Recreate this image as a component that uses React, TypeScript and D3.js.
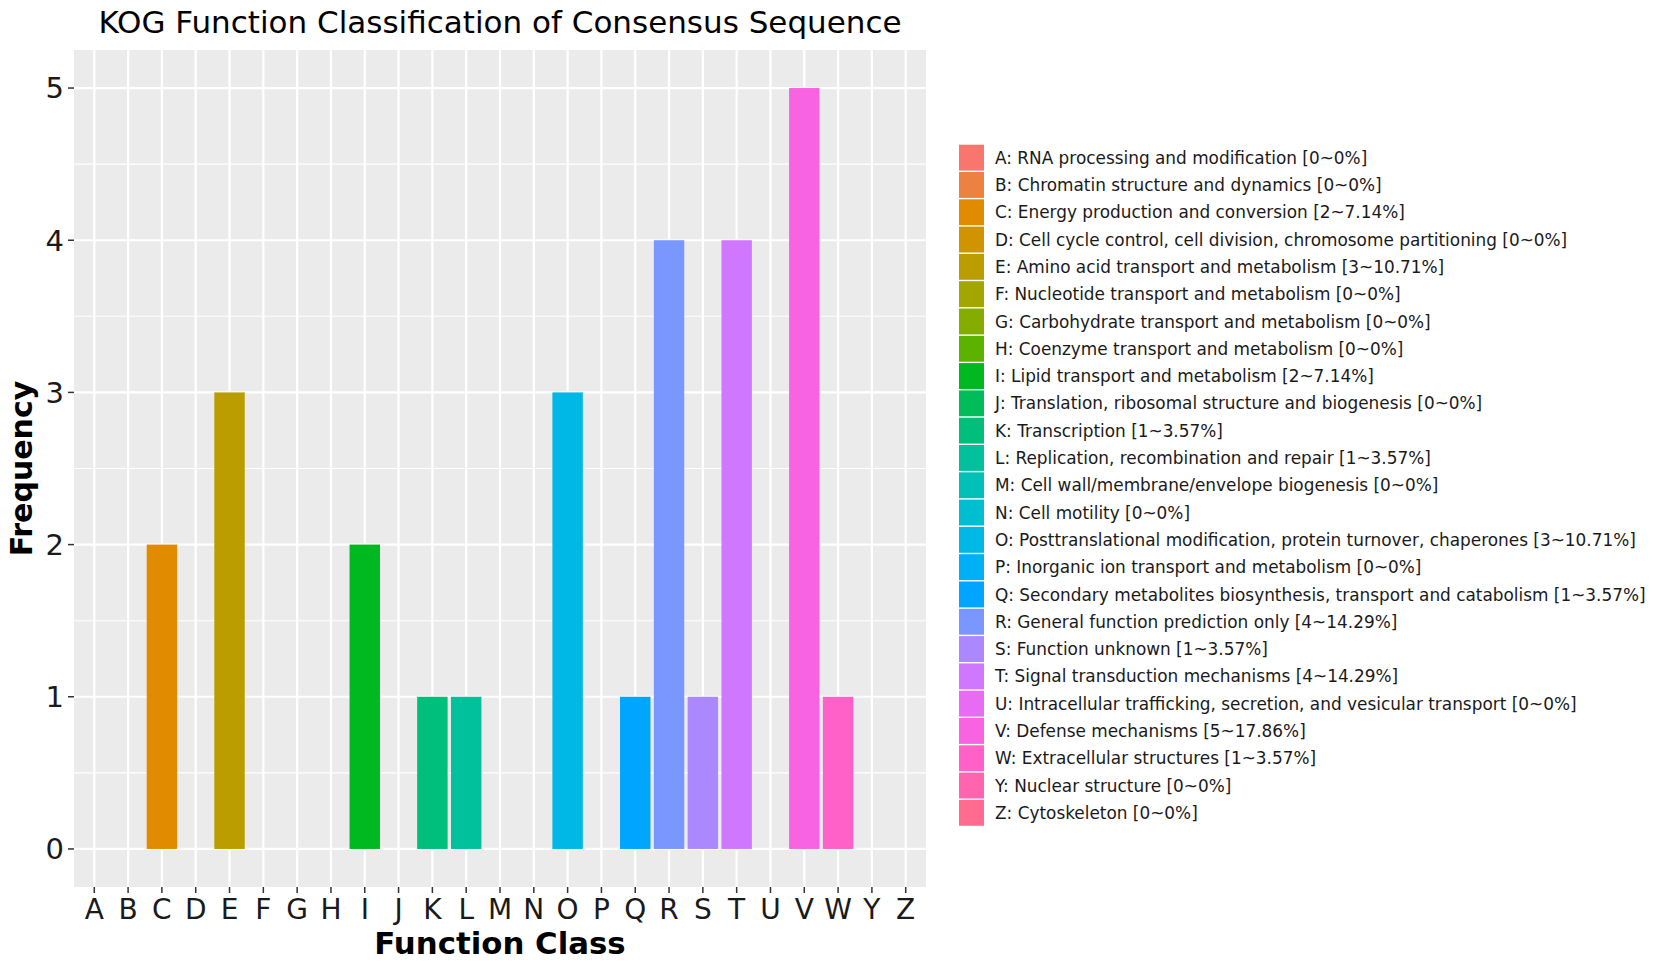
import React, { useEffect, useRef } from 'react';
import * as d3 from 'd3';

// KOG classes (no X in the original table)
const classes = ['A', 'B', 'C', 'D', 'E', 'F', 'G', 'H', 'I', 'J', 'K', 'L', 'M', 'N', 'O', 'P', 'Q', 'R', 'S', 'T', 'U', 'V', 'W', 'Y', 'Z'];
const counts = [0, 0, 2, 0, 3, 0, 0, 0, 2, 0, 1, 1, 0, 0, 3, 0, 1, 4, 1, 4, 0, 5, 1, 0, 0];
const percents = ['0', '0', '7.14', '0', '10.71', '0', '0', '0', '7.14', '0', '3.57', '3.57', '0', '0', '10.71', '0', '3.57', '14.29', '3.57', '14.29', '0', '17.86', '3.57', '0', '0'];
const descriptions = [
  'RNA processing and modification',
  'Chromatin structure and dynamics',
  'Energy production and conversion',
  'Cell cycle control, cell division, chromosome partitioning',
  'Amino acid transport and metabolism',
  'Nucleotide transport and metabolism',
  'Carbohydrate transport and metabolism',
  'Coenzyme transport and metabolism',
  'Lipid transport and metabolism',
  'Translation, ribosomal structure and biogenesis',
  'Transcription',
  'Replication, recombination and repair',
  'Cell wall/membrane/envelope biogenesis',
  'Cell motility',
  'Posttranslational modification, protein turnover, chaperones',
  'Inorganic ion transport and metabolism',
  'Secondary metabolites biosynthesis, transport and catabolism',
  'General function prediction only',
  'Function unknown',
  'Signal transduction mechanisms',
  'Intracellular trafficking, secretion, and vesicular transport',
  'Defense mechanisms',
  'Extracellular structures',
  'Nuclear structure',
  'Cytoskeleton',
];
const yTicks = [0, 1, 2, 3, 4, 5];
const yMinor = [0.5, 1.5, 2.5, 3.5, 4.5];

// ggplot-style hue palette (polar LUV -> sRGB)
function hclLuv(h: number, c: number, l: number) {
  const hr = (h * Math.PI) / 180;
  const U = c * Math.cos(hr);
  const V = c * Math.sin(hr);
  const Xn = 95.047, Yn = 100, Zn = 108.883;
  const den = Xn + 15 * Yn + 3 * Zn;
  const un = (4 * Xn) / den, vn = (9 * Yn) / den;
  const Y = l > 8 ? Yn * Math.pow((l + 16) / 116, 3) : (Yn * l) / 903.3;
  const u = U / (13 * l) + un;
  const v = V / (13 * l) + vn;
  const X = (9 * Y * u) / (4 * v);
  const Z = -X / 3 - 5 * Y + (3 * Y) / v;
  const x = X / 100, y = Y / 100, z = Z / 100;
  const lin = [
    3.240479 * x - 1.53715 * y - 0.498535 * z,
    -0.969256 * x + 1.875992 * y + 0.041556 * z,
    0.055648 * x - 0.204043 * y + 1.057311 * z,
  ];
  const g = lin.map((t) => {
    const s = t <= 0.0031308 ? 12.92 * t : 1.055 * Math.pow(t, 1 / 2.4) - 0.055;
    return Math.round(Math.max(0, Math.min(1, s)) * 255);
  });
  return d3.rgb(g[0], g[1], g[2]).formatHex();
}

const W = 1654;
const H = 965;

const Chart: React.FC = () => {
  const ref = useRef<SVGSVGElement>(null);

  useEffect(() => {
    const svg = d3.select(ref.current);
    svg.selectAll('*').remove();

    const n = classes.length;
    const colors = classes.map((_, i) => hclLuv(15 + (360 / n) * i, 100, 65));
    const color = d3.scaleOrdinal<string, string>().domain(classes).range(colors);

    const panel = { left: 74, right: 926, top: 50, bottom: 887 };
    const x = d3.scalePoint<string>().domain(classes).range([panel.left, panel.right]).padding(0.6);
    const y = d3.scaleLinear().domain([-0.25, 5.25]).range([panel.bottom, panel.top]);
    const barW = x.step() * 0.9;

    const font = 'DejaVu Sans, sans-serif';

    svg.append('rect')
      .attr('x', 0).attr('y', 0).attr('width', W).attr('height', H)
      .attr('fill', '#ffffff');

    // panel background
    svg.append('rect')
      .attr('x', panel.left).attr('y', panel.top)
      .attr('width', panel.right - panel.left).attr('height', panel.bottom - panel.top)
      .attr('fill', '#EBEBEB');

    // grid lines
    svg.append('g').selectAll('line')
      .data(yMinor)
      .join('line')
      .attr('x1', panel.left).attr('x2', panel.right)
      .attr('y1', (d) => y(d)).attr('y2', (d) => y(d))
      .attr('stroke', '#ffffff').attr('stroke-width', 1.1);

    svg.append('g').selectAll('line')
      .data(yTicks)
      .join('line')
      .attr('x1', panel.left).attr('x2', panel.right)
      .attr('y1', (d) => y(d)).attr('y2', (d) => y(d))
      .attr('stroke', '#ffffff').attr('stroke-width', 2.2);

    svg.append('g').selectAll('line')
      .data(classes)
      .join('line')
      .attr('x1', (d) => x(d)!).attr('x2', (d) => x(d)!)
      .attr('y1', panel.top).attr('y2', panel.bottom)
      .attr('stroke', '#ffffff').attr('stroke-width', 2.2);

    // bars
    svg.append('g').selectAll('rect')
      .data(classes.map((c, i) => ({ c, v: counts[i] })).filter((d) => d.v > 0))
      .join('rect')
      .attr('x', (d) => x(d.c)! - barW / 2)
      .attr('y', (d) => y(d.v))
      .attr('width', barW)
      .attr('height', (d) => y(0) - y(d.v))
      .attr('fill', (d) => color(d.c));

    // y axis
    const yAxis = svg.append('g');
    yAxis.selectAll('line')
      .data(yTicks)
      .join('line')
      .attr('x1', panel.left - 6).attr('x2', panel.left)
      .attr('y1', (d) => y(d)).attr('y2', (d) => y(d))
      .attr('stroke', '#333333').attr('stroke-width', 1.5);
    yAxis.selectAll('text')
      .data(yTicks)
      .join('text')
      .attr('x', panel.left - 10)
      .attr('y', (d) => y(d))
      .attr('dy', '0.36em')
      .attr('text-anchor', 'end')
      .attr('font-family', font)
      .attr('font-size', 29)
      .attr('fill', '#1a1a1a')
      .text((d) => d);

    // x axis
    const xAxis = svg.append('g');
    xAxis.selectAll('line')
      .data(classes)
      .join('line')
      .attr('x1', (d) => x(d)!).attr('x2', (d) => x(d)!)
      .attr('y1', panel.bottom).attr('y2', panel.bottom + 6)
      .attr('stroke', '#333333').attr('stroke-width', 1.5);
    xAxis.selectAll('text')
      .data(classes)
      .join('text')
      .attr('x', (d) => x(d)!)
      .attr('y', 919)
      .attr('text-anchor', 'middle')
      .attr('font-family', font)
      .attr('font-size', 28)
      .attr('fill', '#1a1a1a')
      .text((d) => d);

    // titles
    svg.append('text')
      .attr('x', (panel.left + panel.right) / 2)
      .attr('y', 33)
      .attr('text-anchor', 'middle')
      .attr('font-family', font)
      .attr('font-size', 31)
      .attr('fill', '#000000')
      .text('KOG Function Classification of Consensus Sequence');

    svg.append('text')
      .attr('x', (panel.left + panel.right) / 2)
      .attr('y', 954)
      .attr('text-anchor', 'middle')
      .attr('font-family', font)
      .attr('font-weight', 'bold')
      .attr('font-size', 30.8)
      .attr('fill', '#000000')
      .text('Function Class');

    svg.append('text')
      .attr('transform', `translate(32, ${(panel.top + panel.bottom) / 2}) rotate(-90)`)
      .attr('text-anchor', 'middle')
      .attr('font-family', font)
      .attr('font-weight', 'bold')
      .attr('font-size', 30)
      .attr('fill', '#000000')
      .text('Frequency');

    // legend
    const legTop = 144;
    const rowH = 27.3;
    const leg = svg.append('g');
    const rows = leg.selectAll('g')
      .data(classes)
      .join('g')
      .attr('transform', (_, i) => `translate(959, ${legTop + i * rowH})`);
    rows.append('rect')
      .attr('x', 0).attr('y', 0.7)
      .attr('width', 25).attr('height', rowH - 1.4)
      .attr('fill', (d) => color(d));
    rows.append('text')
      .attr('x', 36)
      .attr('y', rowH / 2)
      .attr('dy', '0.36em')
      .attr('font-family', font)
      .attr('font-size', 16.9)
      .attr('fill', '#1a1a1a')
      .text((d, i) => `${d}: ${descriptions[i]} [${counts[i]}~${percents[i]}%]`);
  }, []);

  return (
    <svg
      ref={ref}
      width={W}
      height={H}
      style={{ position: 'absolute', left: 0, top: 0, display: 'block' }}
    />
  );
};

export default function App() {
  return <Chart />;
}
